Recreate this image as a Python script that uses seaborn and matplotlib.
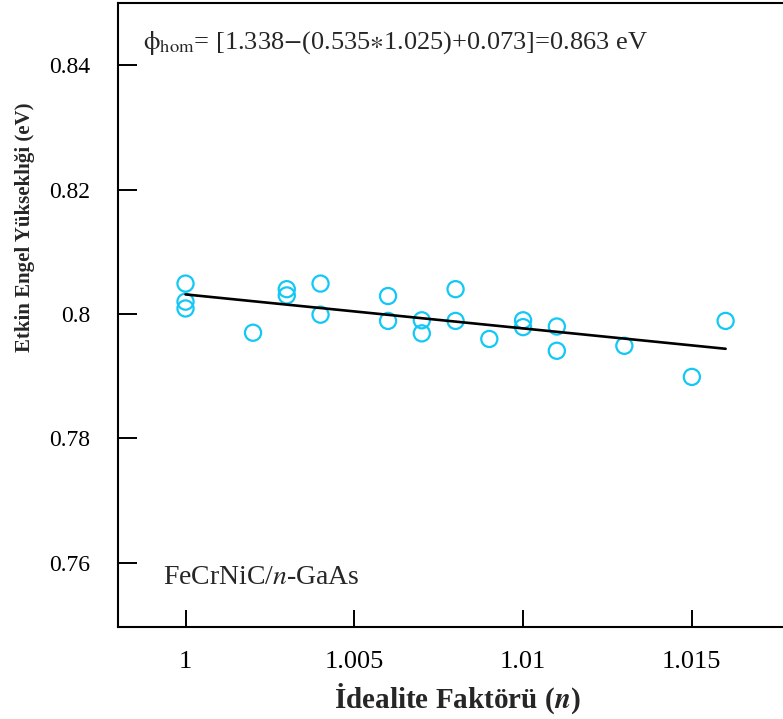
import matplotlib
matplotlib.use("Agg")
import matplotlib.pyplot as plt
import seaborn as sns
import pandas as pd

# Data
ideality = [1.000, 1.000, 1.000, 1.002, 1.003, 1.003, 1.004, 1.004,
            1.006, 1.006, 1.007, 1.007, 1.008, 1.008, 1.009, 1.010,
            1.010, 1.011, 1.011, 1.013, 1.015, 1.016]
barrier = [0.8049, 0.8020, 0.8009, 0.7970, 0.8040, 0.8030, 0.8049, 0.7999,
           0.8029, 0.7989, 0.7990, 0.7969, 0.8040, 0.7989, 0.7960, 0.7990,
           0.7979, 0.7980, 0.7941, 0.7949, 0.7899, 0.7989]
xticks = [1.0, 1.005, 1.01, 1.015]
xtick_labels = ["1", "1.005", "1.01", "1.015"]
yticks = [0.76, 0.78, 0.80, 0.82, 0.84]
ytick_labels = ["0.76", "0.78", "0.8", "0.82", "0.84"]

df = pd.DataFrame({"n": ideality, "phi": barrier})

sns.set_style("white")
plt.rcParams["font.family"] = ["Liberation Serif", "DejaVu Serif"]

W, H = 783, 719
fig = plt.figure(figsize=(W / 100, H / 100), dpi=100)
ax = fig.add_axes([118 / W, 1 - 627 / H, 1 - 118 / W, (627 - 3) / H])

cyan = "#12C8F5"
sns.scatterplot(data=df, x="n", y="phi", ax=ax, marker="o", s=135,
                facecolors="none", edgecolor=cyan, linewidth=1.6, zorder=3)
sns.regplot(data=df, x="n", y="phi", ax=ax, scatter=False, ci=None,
            line_kws=dict(color="black", lw=1.9, zorder=4))

ax.set_xlim(0.998, 1.0177)
ax.set_ylim(0.7497, 0.8500)
ax.set_xticks(xticks)
ax.set_xticklabels(xtick_labels)
ax.set_yticks(yticks)
ax.set_yticklabels(ytick_labels)

for side in ["left", "bottom", "top"]:
    ax.spines[side].set_visible(True)
    ax.spines[side].set_color("black")
    ax.spines[side].set_linewidth(1.5)
ax.spines["right"].set_visible(False)

ax.tick_params(axis="y", direction="in", length=14, width=1.4, pad=20,
               labelsize=17, left=True, colors="black")
ax.tick_params(axis="x", direction="in", length=12, width=1.4, pad=17.5,
               labelsize=19, bottom=True, colors="black")

ax.set_xlabel(r"İdealite Faktörü ($\mathbfit{n}$)", fontsize=21, fontweight="bold",
              math_fontfamily="stix")
ax.xaxis.set_label_coords(0.511, -0.087)
ax.set_ylabel("Etkin Engel Yükseklıği (eV)", fontsize=15, fontweight="bold")
ax.yaxis.set_label_coords(-0.125, 0.64)

ax.text(143 / W, 1 - 43 / H,
        r"$\mathrm{\phi}_{\mathrm{hom}}$= [1.338$-$(0.535$\ast$1.025)+0.073]=0.863 eV",
        transform=fig.transFigure, fontsize=19, va="center", ha="left",
        math_fontfamily="stix")
ax.text(163 / W, 1 - 578 / H, r"FeCrNiC/$n$-GaAs", transform=fig.transFigure,
        fontsize=20, va="center", ha="left", math_fontfamily="stix")

fig.savefig("out.png", dpi=100)
